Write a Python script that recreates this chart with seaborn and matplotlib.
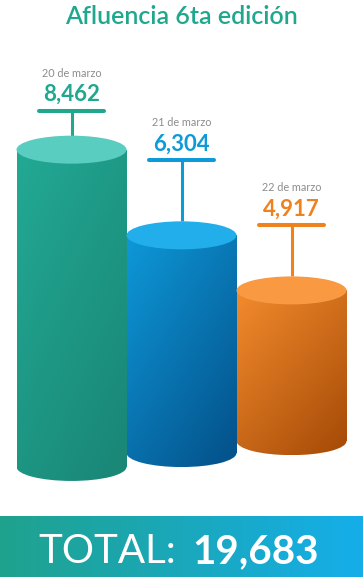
import numpy as np
import pandas as pd
import matplotlib.pyplot as plt
import seaborn as sns
from matplotlib.patches import Ellipse
from matplotlib.colors import to_rgb

# datos
dias = ['20 de marzo', '21 de marzo', '22 de marzo']
asistentes = [8462, 6304, 4917]
titulo = 'Afluencia 6ta edición'

# colores: tapa, cuerpo claro, cuerpo oscuro, texto
tapa = ['#58cdc0', '#22aeea', '#f99a43']
claro = ['#22a994', '#0e98d8', '#f38b2d']
oscuro = ['#1a8777', '#04538c', '#a84d08']
texto = ['#20a88f', '#0e9ad8', '#f0821e']

W, H = 363, 577
sns.set_theme(style='white')
plt.rcParams['font.family'] = ['Lato', 'DejaVu Sans']

fig = plt.figure(figsize=(W / 100, H / 100), dpi=100)
ax = fig.add_axes([0, 0, 1, 1])

df = pd.DataFrame({'dia': dias, 'n': asistentes})
sns.barplot(data=df, x='dia', y='n', hue='dia', palette=claro, width=1.0,
            errorbar=None, legend=False, ax=ax)

# escala fija: ~110 px por cilindro
XL = (-0.65, 2.65)
YL = (-2302, 12232)
dpy = (YL[1] - YL[0]) / H     # unidades por pixel vertical
ry = 14 * dpy                 # semieje de las elipses
base = [470, 820, 1120]       # base escalonada de cada cilindro
stem = [25, 61, 51]           # largo del poste en px

u = np.linspace(0, 1, 64)
U, V = np.meshgrid(u, u)
t = np.clip(0.45 * U + 0.6 * V, 0, 1)[..., None]

bars = sorted(ax.patches, key=lambda p: p.get_x())
for i, (p, v) in enumerate(zip(bars, asistentes)):
    x = p.get_x() + p.get_width() / 2
    p.set_y(base[i])
    p.set_height(v - base[i])
    p.set_linewidth(0)
    p.set_zorder(2 + 3 * i)

    img = (1 - t) * np.array(to_rgb(claro[i])) + t * np.array(to_rgb(oscuro[i]))
    im = ax.imshow(img, extent=(x - 0.5, x + 0.5, base[i] - ry, v), aspect='auto',
                   origin='upper', zorder=2 + 3 * i, interpolation='bilinear')
    im.set_clip_path(p)
    fondo = Ellipse((x, base[i]), 1.0, 2 * ry, transform=ax.transData)
    im2 = ax.imshow(img, extent=(x - 0.5, x + 0.5, base[i] - ry, v), aspect='auto',
                    origin='upper', zorder=2 + 3 * i, interpolation='bilinear')
    im2.set_clip_path(fondo)

    ax.add_patch(Ellipse((x, v), 1.0, 2 * ry, fc=tapa[i], ec='none', zorder=3 + 3 * i))

    # marcador en T
    y0 = v + ry
    y1 = y0 + stem[i] * dpy
    ax.plot([x, x], [y0, y1], color=texto[i], lw=2.2, solid_capstyle='butt', zorder=1)
    ax.plot([x - 0.295, x + 0.295], [y1, y1], color=texto[i], lw=2.9,
            solid_capstyle='round', zorder=1)
    ax.text(x, y1 + 10 * dpy, f'{v:,}', ha='center', va='baseline', fontsize=16,
            fontweight='bold', color=texto[i])
    ax.text(x, y1 + 34 * dpy, dias[i], ha='center', va='baseline', fontsize=7.8,
            color='#8c8c8c')

ax.set_xlim(*XL)
ax.set_ylim(*YL)
ax.axis('off')

fig.text(181 / W, 1 - 24 / H, titulo, ha='center', va='baseline', fontsize=18,
         color='#20a88f', fontweight='semibold')

# franja del total
bax = fig.add_axes([0, 0, 1, 61 / H])
g = np.linspace(0, 1, 256)[None, :, None]
banda = (1 - g) * np.array(to_rgb('#1fa28d')) + g * np.array(to_rgb('#15aeea'))
bax.imshow(banda, aspect='auto', extent=(0, 1, 0, 1))
bax.axis('off')

fig.text(176 / W, 1 - 563 / H, 'TOTAL:', ha='right', va='baseline', fontsize=29,
         color='white', fontweight='normal')
fig.text(192 / W, 1 - 563 / H, f'{sum(asistentes):,}', ha='left', va='baseline',
         fontsize=29, color='white', fontweight='bold')

fig.savefig('out.png', dpi=100)
